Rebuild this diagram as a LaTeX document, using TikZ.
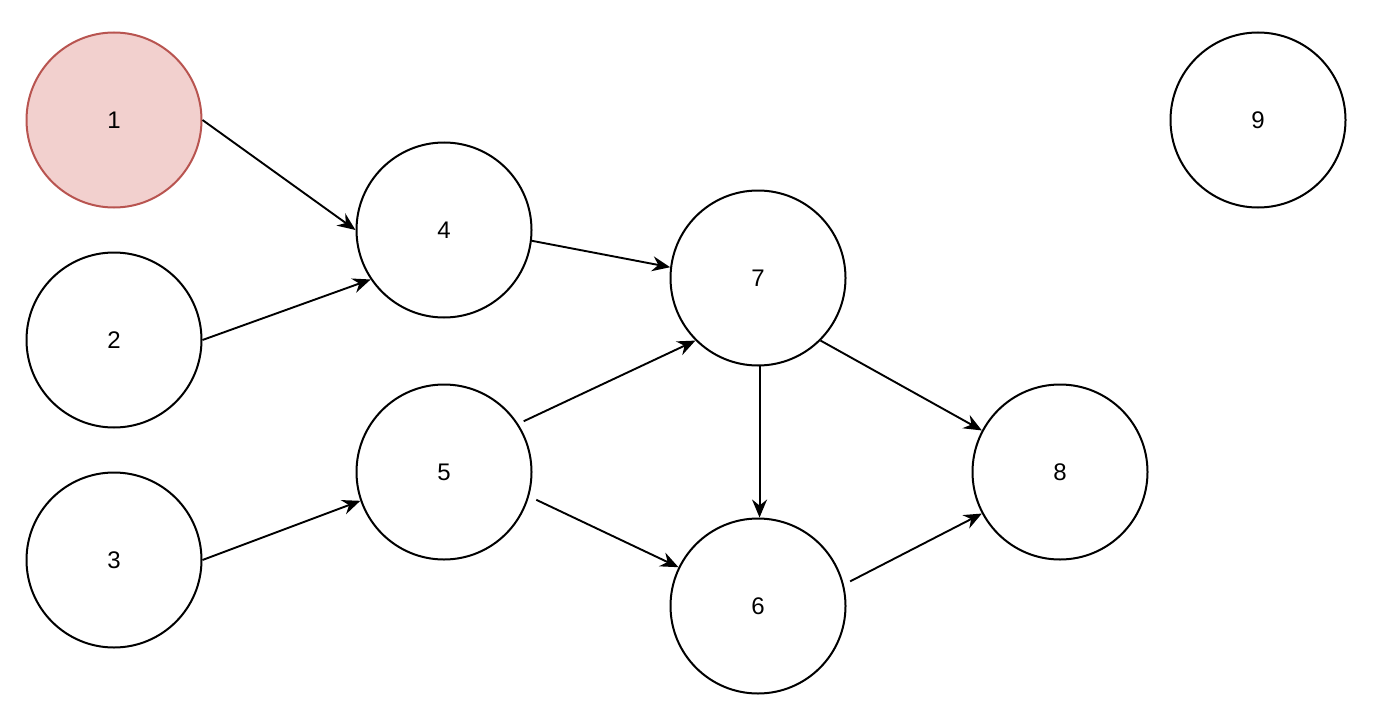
\documentclass[tikz,border=0pt]{standalone}
\usepackage{fontspec}
\setmainfont{Liberation Sans}
\usetikzlibrary{arrows.meta}
\definecolor{redfill}{HTML}{F2D0CE}
\definecolor{redline}{HTML}{B85450}
\begin{document}
\begin{tikzpicture}[x=1pt,y=-1pt,
  vert/.style={circle,draw=black,line width=2pt,minimum size=175pt,inner sep=0pt,font=\fontsize{24}{28}\selectfont},
  hot/.style={vert,fill=redfill,draw=redline},
  edge/.style={line width=1.9pt,-{Stealth[length=18pt,width=15pt,inset=6pt]}}]
\useasboundingbox (0,0) rectangle (1388,706);
\node[hot] (n1) at (114,120) {1};
\node[vert] (n2) at (114,340) {2};
\node[vert] (n3) at (114,560) {3};
\node[vert] (n4) at (444,230) {4};
\node[vert] (n5) at (444,472) {5};
\node[vert] (n6) at (758,606) {6};
\node[vert] (n7) at (758,278) {7};
\node[vert] (n8) at (1060,472) {8};
\node[vert] (n9) at (1258,120) {9};
\draw[edge] (n1.0) -- (n4.180);
\draw[edge] (n2.0) -- (n4.214.8);
\draw[edge] (n3.0) -- (n5.199.9);
\draw[edge] (n4.-7.7) -- (n7.173.4);
\draw[edge,shorten <=6pt] (n5.33.4) -- (n7.225.5);
\draw[edge,shorten <=8pt] (n5.-16.2) -- (n6.154);
\draw[edge] (n7.-89) -- (n6.89);
\draw[edge] (n7.-45) -- (n8.152.9);
\draw[edge,shorten <=7pt] (n6.14.6) -- (n8.208.9);
\end{tikzpicture}
\end{document}
